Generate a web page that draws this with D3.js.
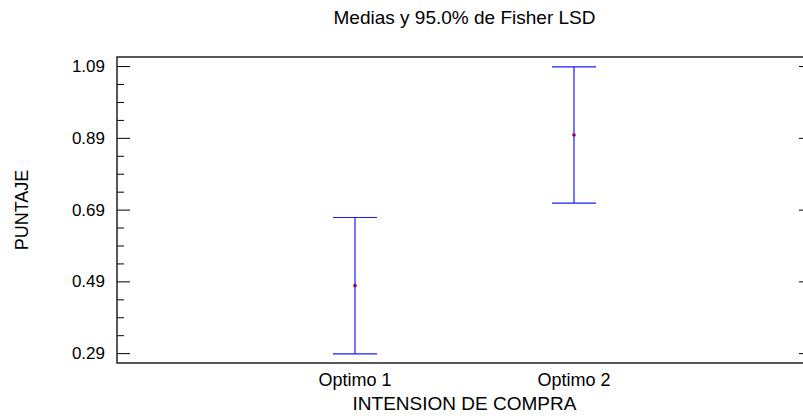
<!DOCTYPE html>
<html>
<head>
<meta charset="utf-8">
<script src="https://cdn.jsdelivr.net/npm/d3@7"></script>
<style>
  body { margin: 0; background: #fff; }
  text { font-family: "Liberation Sans", Arial, sans-serif; fill: #000; }
</style>
</head>
<body>
<svg></svg>
<script>
// data
const groups = ["Optimo 1", "Optimo 2"];
const means = [0.478, 0.898];
const lower = [0.288, 0.708];
const upper = [0.668, 1.088];
const yTicks = [0.29, 0.49, 0.69, 0.89, 1.09];

const width = 803, height = 418;
const margin = {top: 57, right: -9, bottom: 55, left: 117};
const fs = "18px";

const svg = d3.select("svg")
    .attr("width", width)
    .attr("height", height);

const x = d3.scalePoint()
    .domain(groups)
    .range([margin.left, width - margin.right])
    .padding(1.087);

const y = d3.scaleLinear()
    .domain([0.2625, 1.1153])
    .range([height - margin.bottom, margin.top]);

const minor = d3.range(0.29, 1.10, 0.05).filter(v => !yTicks.some(t => Math.abs(t - v) < 1e-6));

// left axis, ticks inside
const left = svg.append("g")
    .attr("transform", `translate(${margin.left},0)`)
    .call(d3.axisRight(y).tickValues(yTicks).tickSize(13).tickFormat(d3.format(".2f")));
left.select(".domain").remove();
left.selectAll("line").attr("stroke", "#000");
left.selectAll("text")
    .attr("x", -12)
    .attr("text-anchor", "end")
    .style("font-size", "17px")
    .style("font-family", "Liberation Sans, Arial, sans-serif");

svg.append("g")
    .attr("transform", `translate(${margin.left},0)`)
    .call(d3.axisRight(y).tickValues(minor).tickSize(7).tickFormat(""))
    .call(g => g.select(".domain").remove())
    .selectAll("line").attr("stroke", "#000");

// right axis, major ticks only
svg.append("g")
    .attr("transform", `translate(${width - margin.right},0)`)
    .call(d3.axisLeft(y).tickValues(yTicks).tickSize(13).tickFormat(""))
    .call(g => g.select(".domain").remove())
    .selectAll("line").attr("stroke", "#000");

// frame
svg.append("rect")
    .attr("x", margin.left)
    .attr("y", margin.top)
    .attr("width", width - margin.right - margin.left)
    .attr("height", height - margin.bottom - margin.top)
    .attr("fill", "none")
    .attr("stroke", "#222")
    .attr("stroke-width", 1.5);

// x labels
svg.append("g")
    .selectAll("text")
    .data(groups)
    .join("text")
    .attr("x", d => x(d))
    .attr("y", 386)
    .attr("text-anchor", "middle")
    .style("font-size", fs)
    .text(d => d);

// intervals
const bars = svg.append("g");
const capW = 22;
groups.forEach((g, i) => {
    const cx = x(g);
    bars.append("line")
        .attr("x1", cx).attr("x2", cx)
        .attr("y1", y(lower[i])).attr("y2", y(upper[i]))
        .attr("stroke", "#1a1aff").attr("stroke-width", 1.2);
    [lower[i], upper[i]].forEach(v => {
        bars.append("line")
            .attr("x1", cx - capW).attr("x2", cx + capW)
            .attr("y1", y(v)).attr("y2", y(v))
            .attr("stroke", "#1a1aff").attr("stroke-width", 1.2);
    });
    bars.append("circle")
        .attr("cx", cx).attr("cy", y(means[i]))
        .attr("r", 1.8)
        .attr("fill", "#990044");
});

// titles
svg.append("text")
    .attr("x", (margin.left + width - margin.right) / 2)
    .attr("y", 24)
    .attr("text-anchor", "middle")
    .style("font-size", "19px")
    .text("Medias y 95.0% de Fisher LSD");

svg.append("text")
    .attr("x", (margin.left + width - margin.right) / 2)
    .attr("y", 410)
    .attr("text-anchor", "middle")
    .style("font-size", "19px")
    .text("INTENSION DE COMPRA");

svg.append("text")
    .attr("transform", `translate(28,${(margin.top + height - margin.bottom) / 2}) rotate(-90)`)
    .attr("text-anchor", "middle")
    .style("font-size", fs)
    .text("PUNTAJE");
</script>
</body>
</html>
